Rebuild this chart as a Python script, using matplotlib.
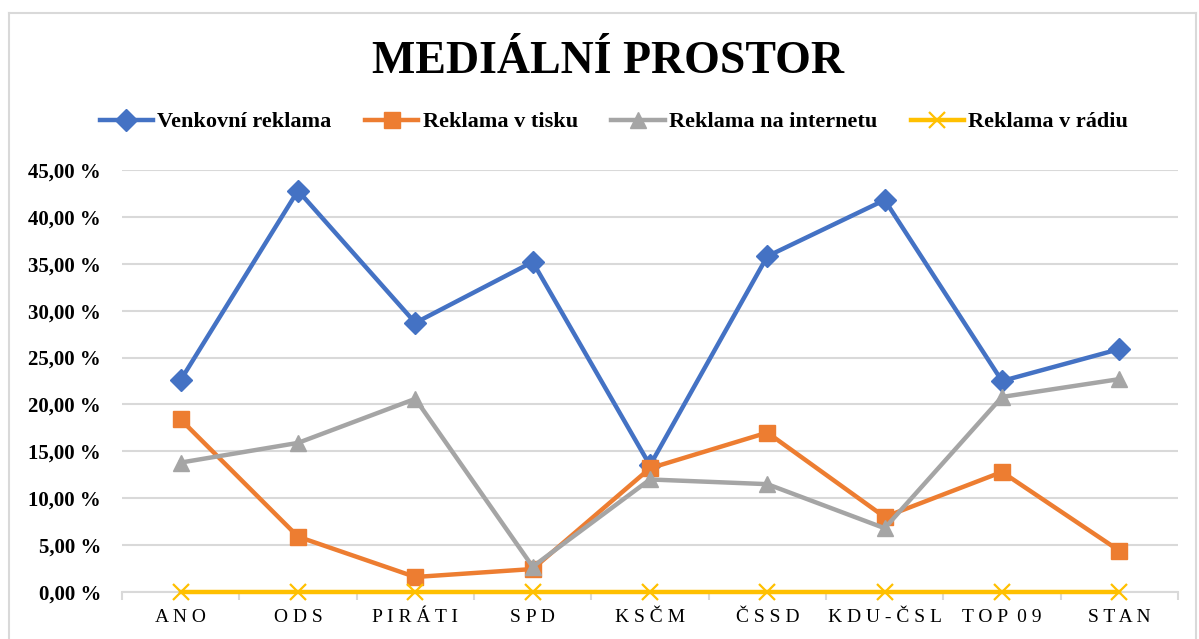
import matplotlib.pyplot as plt
import numpy as np
from matplotlib.ticker import FuncFormatter, FixedLocator

strany = ['ANO', 'ODS', 'PIRÁTI', 'SPD', 'KSČM', 'ČSSD', 'KDU-ČSL', 'TOP 09', 'STAN']
venkovni = [22.6, 42.8, 28.7, 35.2, 13.5, 35.8, 41.8, 22.5, 25.9]
tisk = [18.4, 5.9, 1.6, 2.45, 13.2, 17.0, 8.0, 12.8, 4.4]
internet = [13.8, 15.9, 20.6, 2.7, 12.0, 11.5, 6.8, 20.8, 22.7]
radio = [0, 0, 0, 0, 0, 0, 0, 0, 0]

serie = ['Venkovní reklama', 'Reklama v tisku', 'Reklama na internetu', 'Reklama v rádiu']
barvy = ['#4472C4', '#ED7D31', '#A5A5A5', '#FFC000']
znacky = ['D', 's', '^', 'x']
hodnoty = [venkovni, tisk, internet, radio]

plt.rcParams['font.family'] = ['Liberation Serif', 'DejaVu Serif']

fig = plt.figure(figsize=(11.99, 6.39), dpi=100)
ax = fig.add_axes([122/1199, 1-592/639, (1178-122)/1199, (592-170)/639])

x = np.arange(len(strany))
for i, (nazev, vals, c, m) in enumerate(zip(serie, hodnoty, barvy, znacky)):
    ms = 11 if m != 'x' else 12
    ax.plot(x, vals, color=c, lw=3.2, marker=m, ms=ms, mew=1.6 if m == 'x' else 1,
            mec=c, label=nazev, clip_on=False, zorder=3 + i)

ax.set_xlim(-0.5, len(strany) - 0.5)
ax.set_ylim(0, 45)
ax.set_yticks(np.arange(0, 46, 5))
ax.yaxis.set_major_formatter(FuncFormatter(lambda v, p: f'{v:.2f}'.replace('.', ',') + ' %'))
ax.grid(axis='y', color='#d9d9d9', lw=1.5)
ax.set_axisbelow(True)

ax.set_xticks(x)
ax.set_xticklabels([' '.join(list(s)).replace('   ', '  ') for s in strany], fontsize=14)
ax.xaxis.set_minor_locator(FixedLocator(np.arange(-0.5, len(strany), 1)))
ax.tick_params(axis='x', which='major', length=0, pad=12)
ax.tick_params(axis='x', which='minor', length=6, color='#d9d9d9', width=1.5)
ax.tick_params(axis='y', length=0, pad=15)
for lab in ax.get_yticklabels():
    lab.set_fontweight('bold')
    lab.set_fontsize(15)

for s in ['top', 'right', 'left']:
    ax.spines[s].set_visible(False)
ax.spines['bottom'].set_color('#d9d9d9')
ax.spines['bottom'].set_linewidth(1.5)

fig.text(0.507, 1-73/639, 'MEDIÁLNÍ PROSTOR', ha='center', va='baseline',
         fontsize=33, fontweight='bold')

fig.legend(loc='center', bbox_to_anchor=(0.512, 1-122/639), ncol=4, frameon=False,
           prop={'weight': 'bold', 'size': 16}, handlelength=2.4, columnspacing=1.5,
           handletextpad=0.2)

# ramecek grafu
fig.add_artist(plt.Line2D([9/1199, 9/1199], [0, 1-13/639], transform=fig.transFigure, color='#d9d9d9', lw=1.5))
fig.add_artist(plt.Line2D([9/1199, 1196/1199], [1-13/639, 1-13/639], transform=fig.transFigure, color='#d9d9d9', lw=1.5))
fig.add_artist(plt.Line2D([1196/1199, 1196/1199], [0, 1-13/639], transform=fig.transFigure, color='#d9d9d9', lw=1.5))

fig.savefig('out.png', dpi=100)
